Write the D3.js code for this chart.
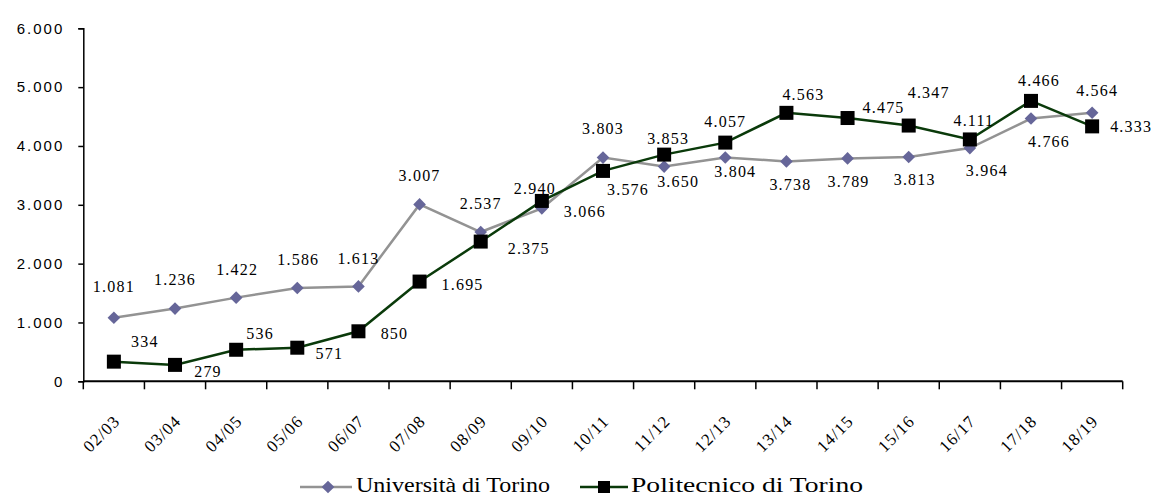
<!DOCTYPE html>
<html>
<head>
<meta charset="utf-8">
<script src="https://cdn.jsdelivr.net/npm/d3@7"></script>
<style>
  html, body { margin: 0; padding: 0; background: #ffffff; }
  svg { display: block; }
</style>
</head>
<body>
<svg id="chart" width="1154" height="496"></svg>
<script>
// ---------- DATA ----------
const categories = ["02/03","03/04","04/05","05/06","06/07","07/08","08/09","09/10","10/11","11/12","12/13","13/14","14/15","15/16","16/17","17/18","18/19"];
const universitaValues = [1081,1236,1422,1586,1613,3007,2537,2940,3803,3650,3804,3738,3789,3813,3964,4466,4564];
const politecnicoValues = [334,279,536,571,850,1695,2375,3066,3576,3853,4057,4563,4475,4347,4111,4766,4333];
const yTickValues = [0,1000,2000,3000,4000,5000,6000];
const seriesNames = ["Università di Torino","Politecnico di Torino"];

// ---------- LAYOUT (label nudges in px, relative to each point) ----------
const uniLabelNudge = [[0,-31],[0,-29],[1,-28],[1,-29],[0,-28],[0,-29],[0,-29],[-7,-20],[0,-29],[14,15],[10,14],[4,23],[1,23],[6,22],[17,22],[8,-38],[5,-22]];
const poliLabelNudge = [[31,-20],[33,7],[24,-16],[32,6],[36,2],[43,3],[48,7],[43,10],[25,18],[4,-16],[0,-21],[17,-18],[36,-11],[20,-33],[4,-19],[18,40],[39,0]];

const fmt = v => d3.format(",")(v).replace(/,/g, ".");

const svg = d3.select("#chart");
const plotLeft = 83.3, plotRight = 1122.7, plotTop = 28.3, plotBottom = 381.3;

const x = d3.scaleBand().domain(categories).range([plotLeft, plotRight]).paddingInner(0).paddingOuter(0);
const cx = c => x(c) + x.bandwidth() / 2;
const y = d3.scaleLinear().domain([0, 6000]).range([plotBottom, plotTop]);

// Y axis
const yAxis = d3.axisLeft(y).tickValues(yTickValues).tickSize(5).tickPadding(14).tickFormat(fmt);
const gy = svg.append("g").attr("transform", `translate(${plotLeft},0)`).call(yAxis);
gy.select(".domain").attr("stroke", "#000").attr("stroke-width", 1.5);
gy.selectAll(".tick line").attr("stroke", "#000").attr("stroke-width", 1.5);
gy.selectAll(".tick text")
  .attr("font-family", "'Liberation Sans', Arial, sans-serif")
  .attr("font-size", 15)
  .attr("letter-spacing", "2px")
  .attr("fill", "#000");

// X axis (ticks at band boundaries)
const gx = svg.append("g");
gx.append("line").attr("x1", plotLeft).attr("x2", plotRight).attr("y1", plotBottom).attr("y2", plotBottom)
  .attr("stroke", "#000").attr("stroke-width", 2);
const boundaries = categories.map(c => x(c)).concat([plotRight]);
gx.selectAll("line.tk").data(boundaries).enter().append("line").attr("class","tk")
  .attr("x1", d => d).attr("x2", d => d).attr("y1", plotBottom).attr("y2", plotBottom + 8)
  .attr("stroke", "#000").attr("stroke-width", 1.5);
gx.selectAll("text.xl").data(categories).enter().append("text").attr("class","xl")
  .attr("transform", d => `translate(${cx(d) + 7},${plotBottom + 41}) rotate(-45)`)
  .attr("text-anchor", "end")
  .attr("font-family", "'Liberation Serif', 'Times New Roman', serif")
  .attr("font-size", 17)
  .attr("letter-spacing", "1px")
  .attr("fill", "#000")
  .text(d => d);

// Lines
const uniData = categories.map((c, i) => ({c, v: universitaValues[i], i}));
const poliData = categories.map((c, i) => ({c, v: politecnicoValues[i], i}));
const line = d3.line().x(d => cx(d.c)).y(d => y(d.v));

svg.append("path").datum(uniData).attr("d", line)
  .attr("fill", "none").attr("stroke", "#939393").attr("stroke-width", 2.5);
svg.append("path").datum(poliData).attr("d", line)
  .attr("fill", "none").attr("stroke", "#0a3a0a").attr("stroke-width", 2.5);

// Markers
const diamond = d3.symbol().type(d3.symbolSquare).size(80);
svg.selectAll("path.uni").data(uniData).enter().append("path").attr("class","uni")
  .attr("d", diamond)
  .attr("transform", d => `translate(${cx(d.c)},${y(d.v)}) rotate(45)`)
  .attr("fill", "#666699");
svg.selectAll("rect.poli").data(poliData).enter().append("rect").attr("class","poli")
  .attr("x", d => cx(d.c) - 7).attr("y", d => y(d.v) - 7)
  .attr("width", 14).attr("height", 14)
  .attr("fill", "#000");

// Data labels
const labelFont = "'Liberation Serif', 'Times New Roman', serif";
function addLabels(data, nudge, cls) {
  svg.selectAll("text." + cls).data(data).enter().append("text").attr("class", cls)
    .attr("x", d => cx(d.c) + nudge[d.i][0])
    .attr("y", d => y(d.v) + nudge[d.i][1])
    .attr("dy", "0.35em")
    .attr("text-anchor", "middle")
    .attr("font-family", labelFont)
    .attr("font-size", 16)
    .attr("letter-spacing", "1.2px")
    .attr("fill", "#000")
    .text(d => fmt(d.v));
}
addLabels(uniData, uniLabelNudge, "ul");
addLabels(poliData, poliLabelNudge, "pl");

// Legend
const lg = svg.append("g");
const legendY = 487;
lg.append("line").attr("x1", 300).attr("x2", 352).attr("y1", legendY).attr("y2", legendY)
  .attr("stroke", "#939393").attr("stroke-width", 2.5);
lg.append("path").attr("d", diamond).attr("transform", `translate(328,${legendY}) rotate(45)`).attr("fill", "#666699");
lg.append("text").attr("x", 356).attr("y", 492)
  .attr("font-family", labelFont).attr("font-size", 20)
  .attr("textLength", 194).attr("lengthAdjust", "spacingAndGlyphs")
  .attr("fill", "#000").text(seriesNames[0]);
lg.append("line").attr("x1", 580).attr("x2", 628).attr("y1", legendY).attr("y2", legendY)
  .attr("stroke", "#0a3a0a").attr("stroke-width", 2.5);
lg.append("rect").attr("x", 598).attr("y", legendY - 6).attr("width", 12).attr("height", 12).attr("fill", "#000");
lg.append("text").attr("x", 631).attr("y", 492)
  .attr("font-family", labelFont).attr("font-size", 20)
  .attr("textLength", 232).attr("lengthAdjust", "spacingAndGlyphs")
  .attr("fill", "#000").text(seriesNames[1]);
</script>
</body>
</html>
